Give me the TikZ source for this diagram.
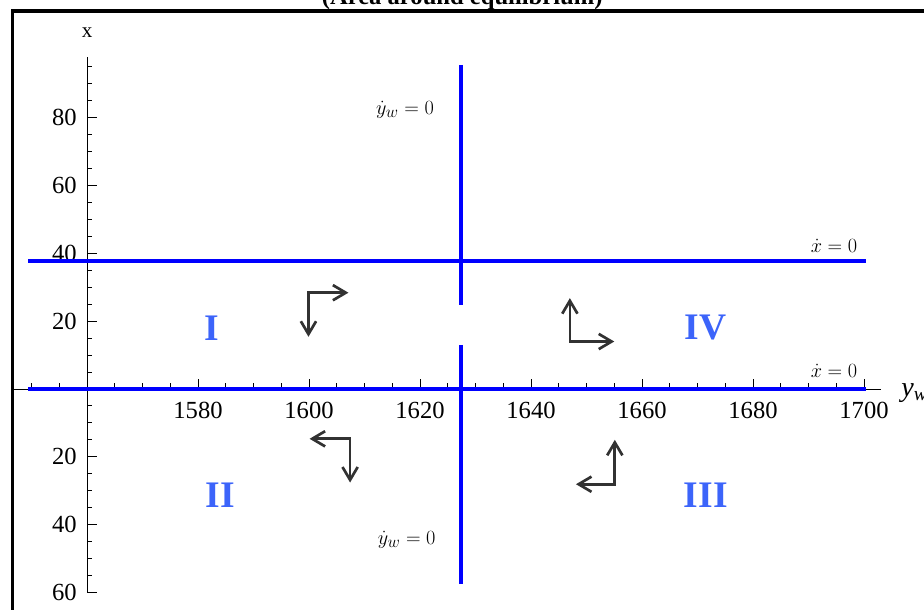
\documentclass[tikz,border=0pt]{standalone}
\usepackage{fontspec}
\setmainfont{Liberation Serif}
\usetikzlibrary{arrows.meta}

\definecolor{nullblue}{RGB}{0,0,255}
\definecolor{regionblue}{RGB}{60,100,250}
\definecolor{flowgray}{RGB}{50,50,50}

\begin{document}
\begin{tikzpicture}[x=0.1665cm,y=0.1017cm,line join=miter,every node/.style={inner sep=1pt},
  nullcline/.style={line width=3.8pt,nullblue},
  flow/.style={line width=2.3pt,flowgray,{Straight Barb[length=11pt,width=13pt]}-{Straight Barb[length=11pt,width=13pt]}},
  region/.style={font=\fontsize{32}{36}\selectfont\bfseries,text=regionblue},
  ticklabel/.style={font=\fontsize{21}{24}\selectfont},
  curvelabel/.style={font=\fontsize{19}{22}\selectfont}]
  % x axis runs in y_w - 1560
  \useasboundingbox (-15.68,-65.19) rectangle (150.81,114.75);
  \draw[line width=2.6pt] (-13.5,-80) rectangle (170,111.5);
  \node[font=\fontsize{21}{24}\selectfont\bfseries,anchor=base] (title) at (67.6,113.4) {(Area around equilibrium)};
  % axes
  \draw[line width=0.8pt] (-13.5,0) -- (143,0);
  \draw[line width=0.8pt] (0,-60) -- (0,97.8);
  \foreach \t in {-60,-40,...,80} {
    \draw[line width=0.8pt] (0,\t) -- (1.8,\t);
  }
  \foreach \t in {-55,-50,...,95} {
    \draw[line width=0.8pt] (0,\t) -- (0.9,\t);
  }
  \foreach \t in {20,40,...,140} {
    \draw[line width=0.8pt] (\t,0) -- (\t,2.95);
  }
  \foreach \t in {-10,-5,5,10,...,140} {
    \draw[line width=0.8pt] (\t,0) -- (\t,1.77);
  }
  \foreach \t/\l [count=\i] in {80/80,60/60,40/40,20/20,-20/20,-40/40,-60/60} {
    \node[ticklabel,anchor=east] (ylab\i) at (-1.6,\t) {\l};
  }
  \foreach \t [count=\i] in {1580,1600,...,1700} {
    \node[ticklabel,anchor=north] (xlab\i) at ({\t-1560},-3.6) {\t};
  }
  \node[font=\fontsize{18}{21}\selectfont] (xname) at (0,105.1) {x};
  \node[font=\fontsize{24}{28}\selectfont,anchor=west] (ywname) at (146.5,-1.2) {\textit{y}\textsubscript{\textit{w}}};
  % nullclines
  \draw[nullcline] (-10.6,37.8) -- (140.3,37.8);
  \draw[nullcline] (-10.6,0) -- (140.3,0);
  \draw[nullcline] (67.4,95.6) -- (67.4,24.8);
  \draw[nullcline] (67.4,13) -- (67.4,-57.5);
  \node[curvelabel] (ywtop) at (57.3,82.3) {$\dot{y}_w = 0$};
  \node[curvelabel] (ywbot) at (57.6,-44.5) {$\dot{y}_w = 0$};
  \node[curvelabel] (xtop) at (134.6,42.2) {$\dot{x} = 0$};
  \node[curvelabel] (xbot) at (134.6,5.3) {$\dot{x} = 0$};
  % regions
  \node[region] (rI) at (22.5,18) {I};
  \node[region] (rIV) at (111.4,18) {IV};
  \node[region] (rII) at (24,-31.3) {II};
  \node[region] (rIII) at (111.5,-31.3) {III};
  % flow directions
  \coordinate (Ic) at (39.9,28.4);
  \coordinate (Ir) at (47.1,28.4);
  \coordinate (Id) at (39.9,15.4);
  \coordinate (IVc) at (87.0,14.0);
  \coordinate (IVu) at (87.0,26.8);
  \coordinate (IVr) at (95.0,14.0);
  \coordinate (IIc) at (47.4,-14.7);
  \coordinate (IIl) at (40.1,-14.7);
  \coordinate (IId) at (47.4,-27.6);
  \coordinate (IIIc) at (95.1,-28.1);
  \coordinate (IIIu) at (95.1,-15.0);
  \coordinate (IIIl) at (88.1,-28.1);
  \draw[flow] (Ir) -- (Ic) -- (Id);
  \draw[flow] (IVu) -- (IVc) -- (IVr);
  \draw[flow] (IIl) -- (IIc) -- (IId);
  \draw[flow] (IIIu) -- (IIIc) -- (IIIl);
\end{tikzpicture}
\end{document}
